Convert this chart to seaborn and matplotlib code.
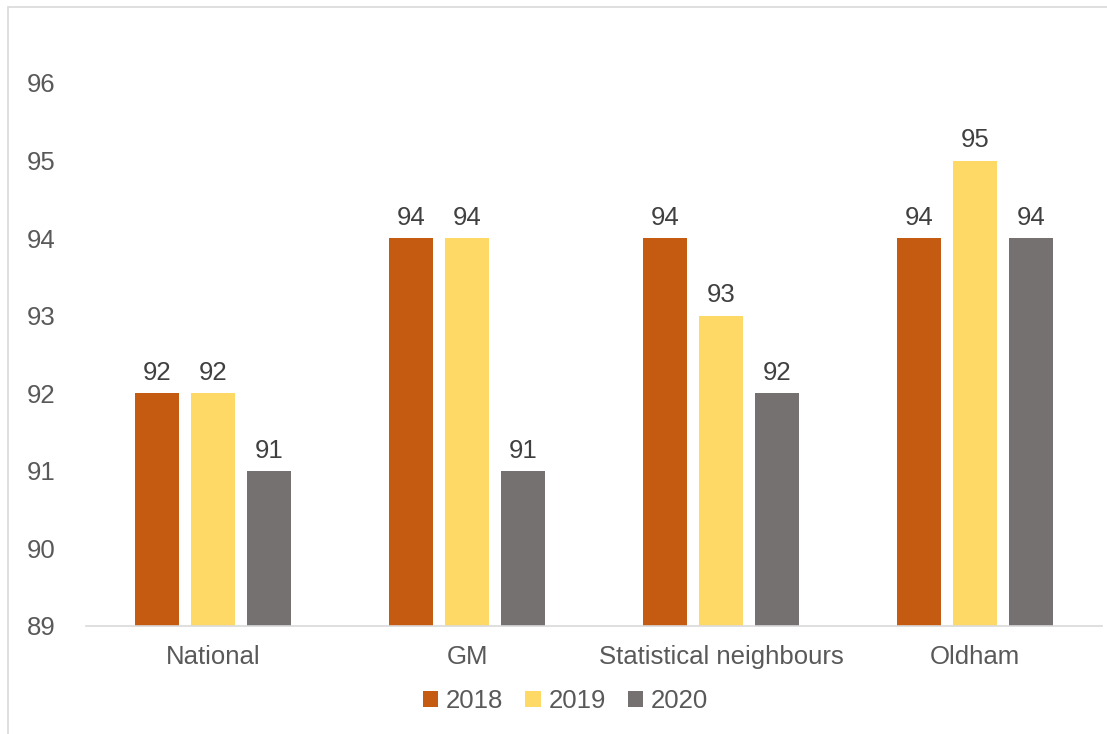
import matplotlib
matplotlib.use("Agg")
import matplotlib.pyplot as plt
import seaborn as sns
import pandas as pd
from matplotlib.patches import Rectangle

categories = ["National", "GM", "Statistical neighbours", "Oldham"]
years = ["2018", "2019", "2020"]
values_2018 = [92, 94, 94, 94]
values_2019 = [92, 94, 93, 95]
values_2020 = [91, 91, 92, 94]
colors = ["#C55A11", "#FFD966", "#767171"]
yticks = [89, 90, 91, 92, 93, 94, 95, 96]

rows = []
for yr, vals in zip(years, [values_2018, values_2019, values_2020]):
    for c, v in zip(categories, vals):
        rows.append({"Category": c, "Year": yr, "Value": v})
df = pd.DataFrame(rows)

sns.set_theme(style="white")
plt.rcParams["font.family"] = ["Liberation Sans", "DejaVu Sans"]

fig = plt.figure(figsize=(11.07, 7.34), dpi=100)
ax = fig.add_axes([86/1107, 108/734, 1016/1107, 543/734])

sns.barplot(data=df, x="Category", y="Value", hue="Year", palette=colors,
            width=0.66, gap=0.21, ax=ax, order=categories, hue_order=years,
            legend=True, saturation=1, linewidth=0)

ax.set_ylim(89, 96)
ax.set_yticks(yticks)
ax.set_yticklabels([str(t) for t in yticks], fontsize=18.5, color="#595959")
ax.tick_params(axis="x", labelsize=18.5, colors="#595959", length=0, pad=14)
ax.tick_params(axis="y", length=0, pad=22)
ax.set_xlabel("")
ax.set_ylabel("")
for s in ["top", "right", "left"]:
    ax.spines[s].set_visible(False)
ax.spines["bottom"].set_color("#D9D9D9")
ax.spines["bottom"].set_linewidth(1.2)
ax.set_xlim(-0.5, 3.5)

for cont in ax.containers:
    ax.bar_label(cont, labels=[f"{v:.0f}" for v in cont.datavalues],
                 padding=6, fontsize=18.5, color="#404040")

handles, labels = ax.get_legend_handles_labels()
ax.legend(handles, labels, loc="center", bbox_to_anchor=(0.472, -0.138),
          ncol=3, frameon=False, fontsize=18.5, labelcolor="#595959",
          handlelength=0.6, handleheight=0.6, handletextpad=0.3,
          columnspacing=0.85)

fig.patches.append(Rectangle((8/1107, -0.1), 1.2, 1 - 7/734 + 0.1,
                             transform=fig.transFigure, fill=False,
                             edgecolor="#D9D9D9", linewidth=1.2))

fig.savefig("out.png", dpi=100)
